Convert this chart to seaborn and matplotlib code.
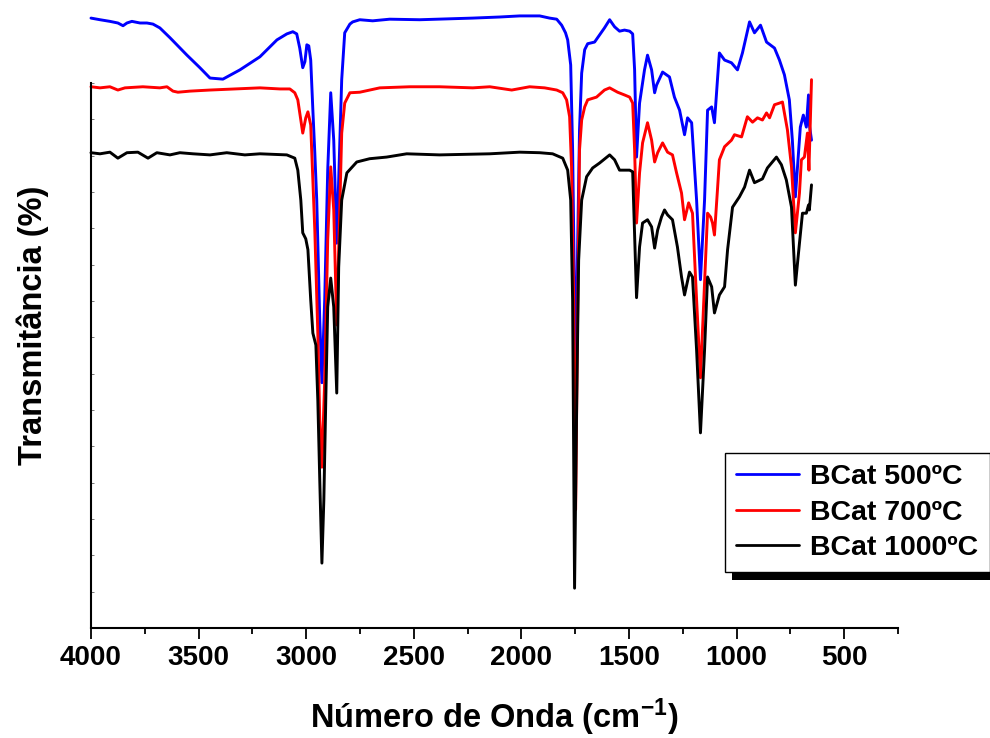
import numpy as np
import pandas as pd
import matplotlib
matplotlib.use('Agg')
import matplotlib.pyplot as plt
import seaborn as sns
from matplotlib.lines import Line2D
from matplotlib.patches import Rectangle
from matplotlib.transforms import IdentityTransform
from matplotlib.ticker import MultipleLocator, NullFormatter

# =====================================
# DADOS (lidos do espectro FTIR)
# =====================================

amostras = ['BCat 500ºC', 'BCat 700ºC', 'BCat 1000ºC']
cores = ['#0000FF', '#FF0000', '#000000']

# BCat 500ºC
wn_500 = [4000, 3958, 3912, 3875, 3851, 3833, 3810, 3772, 3740, 3712, 3680, 3633,
          3554, 3494, 3447, 3387, 3308, 3215, 3136, 3090, 3062, 3044, 3030, 3016,
          3006, 2997, 2988, 2979, 2969, 2960, 2951, 2937, 2927, 2914, 2900, 2886,
          2872, 2858, 2849, 2835, 2821, 2797, 2784, 2751, 2691, 2612, 2472, 2226,
          2101, 2008, 1915, 1869, 1836, 1813, 1795, 1785, 1771, 1762, 1748, 1739,
          1730, 1720, 1706, 1692, 1660, 1637, 1614, 1590, 1567, 1544, 1521, 1497,
          1483, 1474, 1465, 1451, 1428, 1414, 1395, 1381, 1372, 1344, 1312, 1289,
          1265, 1242, 1228, 1209, 1186, 1168, 1149, 1135, 1116, 1103, 1089, 1080,
          1056, 1024, 996, 973, 940, 917, 889, 861, 824, 801, 778, 755, 741, 727,
          704, 690, 676, 666, 662, 652]
t_500 = [111.9, 111.6, 111.3, 111.0, 110.5, 111.0, 111.3, 111.0, 111.0, 110.8, 110.1, 108.3,
         105.1, 102.8, 100.9, 100.7, 102.4, 104.8, 107.9, 109.0, 109.4, 109.0, 106.4, 102.8,
         103.9, 107.0, 106.8, 104.2, 95.0, 87.2, 78.5, 56.5, 45.0, 60.2, 84.0, 98.2,
         89.5, 70.6, 82.2, 100.6, 109.2, 110.8, 111.2, 111.6, 111.4, 111.7, 111.6, 111.9,
         112.1, 112.3, 112.3, 111.9, 111.7, 110.6, 109.2, 107.9, 103.3, 87.7, 44.6, 69.4,
         91.4, 101.8, 106.1, 107.2, 107.5, 108.8, 110.1, 111.6, 110.3, 109.5, 109.7, 109.5,
         109.0, 102.4, 86.4, 96.3, 102.4, 105.1, 102.4, 98.2, 99.6, 102.0, 101.1, 97.4,
         95.0, 90.5, 93.6, 92.7, 78.5, 63.9, 78.5, 95.0, 95.6, 92.7, 100.6, 105.5,
         104.2, 103.7, 102.4, 105.5, 111.2, 109.2, 110.6, 107.5, 106.4, 104.2, 101.5, 96.9, 89.5, 79.1,
         91.9, 94.1, 91.9, 97.8, 92.3, 89.5]

# BCat 700ºC
wn_700 = [4000, 3958, 3912, 3875, 3842, 3759, 3680, 3647, 3619, 3596, 3540, 3447,
          3331, 3215, 3122, 3076, 3053, 3039, 3025, 3016, 3002, 2992, 2979, 2960,
          2946, 2937, 2927, 2914, 2900, 2886, 2872, 2858, 2849, 2835, 2821, 2797,
          2751, 2658, 2519, 2380, 2226, 2147, 2045, 1962, 1892, 1836, 1808, 1790,
          1776, 1767, 1757, 1748, 1739, 1730, 1720, 1706, 1692, 1651, 1614, 1590,
          1553, 1521, 1497, 1483, 1474, 1465, 1451, 1437, 1414, 1395, 1381, 1367,
          1344, 1321, 1298, 1279, 1256, 1242, 1223, 1205, 1186, 1168, 1149, 1135,
          1121, 1112, 1103, 1089, 1080, 1056, 1024, 1010, 977, 950, 926, 903,
          880, 861, 847, 824, 801, 787, 778, 764, 745, 727, 708, 699, 685, 671,
          664, 652]
t_700 = [99.3, 99.1, 99.3, 98.7, 99.1, 99.3, 99.1, 99.3, 98.5, 98.3, 98.5, 98.7,
         98.9, 99.1, 98.9, 98.9, 98.2, 96.9, 93.2, 90.8, 93.6, 94.7, 92.3, 73.0,
         54.1, 38.2, 29.5, 45.5, 71.2, 84.6, 76.7, 55.6, 69.4, 90.8, 96.3, 98.2,
         98.3, 99.1, 99.3, 99.3, 99.1, 99.3, 98.7, 99.3, 99.1, 98.7, 98.2, 96.9,
         93.8, 84.6, 60.2, 21.7, 56.5, 87.7, 93.2, 95.6, 96.9, 97.4, 98.7, 99.1,
         98.3, 97.8, 97.4, 96.3, 87.7, 74.3, 83.5, 89.0, 92.7, 89.5, 85.5, 87.2,
         89.0, 87.3, 86.8, 83.5, 79.8, 74.9, 78.0, 76.1, 60.2, 45.9, 63.3, 76.1,
         75.4, 74.3, 72.1, 80.4, 85.9, 88.3, 89.5, 90.5, 90.1, 93.8, 92.8, 93.6,
         93.2, 94.5, 93.6, 96.0, 96.3, 96.5, 94.5, 91.4, 84.6, 72.5, 79.8, 85.9, 86.4, 90.8,
         84.0, 100.6]

# BCat 1000ºC
wn_1000 = [4000, 3958, 3912, 3875, 3833, 3782, 3735, 3694, 3633, 3587, 3526, 3447,
           3369, 3285, 3215, 3090, 3053, 3039, 3025, 3016, 3002, 2992, 2979, 2969,
           2955, 2946, 2937, 2927, 2918, 2909, 2900, 2886, 2872, 2858, 2849, 2835,
           2811, 2765, 2705, 2626, 2533, 2380, 2147, 2008, 1915, 1855, 1808, 1785,
           1771, 1762, 1753, 1743, 1734, 1720, 1697, 1669, 1637, 1590, 1567, 1544,
           1497, 1483, 1479, 1465, 1451, 1437, 1414, 1395, 1381, 1367, 1349, 1335,
           1321, 1298, 1275, 1256, 1242, 1219, 1205, 1186, 1168, 1149, 1135, 1116,
           1103, 1080, 1056, 1042, 1019, 987, 963, 940, 917, 880, 857, 815, 792,
           769, 745, 727, 708, 694, 676, 666, 662, 652]
t_1000 = [87.2, 87.0, 87.3, 86.2, 87.2, 87.3, 86.2, 87.2, 86.8, 87.2, 87.0, 86.8,
          87.2, 86.8, 87.0, 86.8, 86.2, 84.0, 78.5, 72.5, 71.4, 69.4, 60.2, 54.1,
          51.9, 41.8, 27.2, 11.9, 23.5, 41.8, 58.9, 64.2, 58.9, 43.1, 66.2, 78.5,
          83.5, 85.5, 86.1, 86.4, 87.0, 86.8, 87.0, 87.3, 87.2, 87.0, 86.2, 84.0,
          78.5, 60.2, 7.3, 41.8, 67.5, 78.5, 82.8, 84.4, 85.3, 86.8, 85.9, 84.0,
          84.0, 83.7, 78.5, 60.6, 69.9, 74.3, 74.9, 73.6, 69.7, 73.0, 75.4, 76.7,
          75.8, 74.9, 69.9, 64.4, 61.1, 65.3, 64.4, 51.0, 35.8, 51.0, 64.4, 62.6,
          57.8, 61.1, 62.6, 69.4, 77.2, 79.1, 80.9, 84.0, 81.7, 82.4, 84.4, 86.4, 85.0,
          82.2, 77.2, 62.9, 70.6, 76.1, 76.1, 77.6, 76.7, 81.3]

df = pd.concat([
    pd.DataFrame({'wn': wn_500, 'T': t_500, 'amostra': amostras[0]}),
    pd.DataFrame({'wn': wn_700, 'T': t_700, 'amostra': amostras[1]}),
    pd.DataFrame({'wn': wn_1000, 'T': t_1000, 'amostra': amostras[2]}),
], ignore_index=True)

# =====================================
# ESTILO
# =====================================

sns.set_theme(style='ticks')
plt.rcParams['font.family'] = ['Liberation Sans', 'DejaVu Sans']
plt.rcParams['font.weight'] = 'bold'
plt.rcParams['text.color'] = 'black'
plt.rcParams['mathtext.fontset'] = 'custom'
plt.rcParams['mathtext.rm'] = 'Liberation Sans:bold'
plt.rcParams['mathtext.bf'] = 'Liberation Sans:bold'
plt.rcParams['mathtext.default'] = 'rm'

fig = plt.figure(figsize=(9.9, 7.38), dpi=100)
ax = fig.add_axes([0.0919, 0.1491, 0.8152, 0.7385])

sns.lineplot(data=df, x='wn', y='T', hue='amostra', hue_order=amostras,
             palette=cores, sort=False, estimator=None, linewidth=2.1,
             ax=ax, legend=False)
for ln in ax.lines:
    ln.set_clip_on(False)
    ln.set_solid_joinstyle('round')

ax.set_xlim(4000, 250)
ax.set_ylim(0, 100)

ax.xaxis.set_major_locator(MultipleLocator(500))
ax.xaxis.set_minor_locator(MultipleLocator(250))
ax.yaxis.set_major_locator(MultipleLocator(100 / 15))
ax.yaxis.set_major_formatter(NullFormatter())

ax.tick_params(axis='x', which='major', direction='out', length=8, width=1.3,
               labelsize=20, pad=4, color='black', labelcolor='black')
ax.tick_params(axis='x', which='minor', direction='out', length=4.5, width=1.3, color='black')
ax.tick_params(axis='y', which='major', direction='in', length=2.5, width=0.7, color='#777777')

for s in ['top', 'right']:
    ax.spines[s].set_visible(False)
for s in ['left', 'bottom']:
    ax.spines[s].set_linewidth(1.5)
    ax.spines[s].set_color('black')

for lbl in ax.get_xticklabels():
    lbl.set_fontweight('bold')

ax.set_xlabel('Número de Onda (cm$^{-1}$)', fontsize=23.5, fontweight='bold', color='black')
ax.set_ylabel('Transmitância (%)', fontsize=23.5, fontweight='bold', color='black')
ax.xaxis.set_label_coords(0.5, -0.126)
ax.yaxis.set_label_coords(-0.052, 0.556)

# Legenda com sombra deslocada
handles = [Line2D([], [], color=c, lw=2) for c in cores]
leg = ax.legend(handles, amostras, loc='upper left',
                bbox_to_anchor=(725 / 990, 1 - 453 / 738), bbox_transform=fig.transFigure,
                frameon=True, fancybox=False, framealpha=1, edgecolor='black',
                borderpad=0.4, borderaxespad=0, handlelength=2.2, handletextpad=0.4,
                labelspacing=0.32, labelcolor='black', prop={'weight': 'bold', 'size': 20.5})
leg.get_frame().set_linewidth(1.0)

fig.canvas.draw()
bb = leg.get_window_extent()
sombra = Rectangle((bb.x0 + 7, bb.y0 - 8), bb.width, bb.height, transform=IdentityTransform(),
                   facecolor='black', edgecolor='none', zorder=leg.get_zorder() - 0.1, clip_on=False)
ax.add_artist(sombra)

fig.savefig('out.png', dpi=100)
